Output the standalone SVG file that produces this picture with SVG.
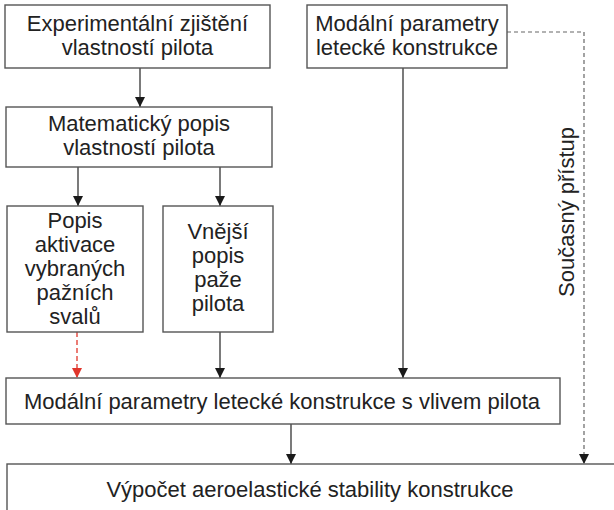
<svg xmlns="http://www.w3.org/2000/svg" width="614" height="510" viewBox="0 0 614 510">
<defs>
<marker id="ah" viewBox="0 0 10 10" refX="10" refY="5" markerWidth="10" markerHeight="10" markerUnits="userSpaceOnUse" orient="auto">
<path d="M0,0 L10,5 L0,10 Z" fill="#1a1a1a"/>
</marker>
<marker id="ahr" viewBox="0 0 10 10" refX="10" refY="5" markerWidth="10" markerHeight="10" markerUnits="userSpaceOnUse" orient="auto">
<path d="M0,0 L10,5 L0,10 Z" fill="#e0362c"/>
</marker>
<style>
.box{fill:#fff;stroke:#555;stroke-width:1.4}
.t{font-family:"Liberation Sans",Arial,sans-serif;font-size:22px;fill:#222;text-anchor:middle}
.c{fill:none;stroke:#333;stroke-width:1.3}
.red{fill:none;stroke:#e0362c;stroke-width:1.3;stroke-dasharray:5,3}
.gd{fill:none;stroke:#666;stroke-width:1.2;stroke-dasharray:4,3}
</style>
</defs>
<rect width="614" height="510" fill="#fff"/>
<g id="connectors">
<line class="c" x1="140" y1="68" x2="140" y2="107" marker-end="url(#ah)"/>
<line class="c" x1="78" y1="167" x2="78" y2="206" marker-end="url(#ah)"/>
<line class="c" x1="220" y1="167" x2="220" y2="206" marker-end="url(#ah)"/>
<line class="c" x1="220" y1="332" x2="220" y2="378" marker-end="url(#ah)"/>
<line class="red" x1="77" y1="332" x2="77" y2="378" marker-end="url(#ahr)"/>
<line class="c" x1="403" y1="68" x2="403" y2="378" marker-end="url(#ah)"/>
<line class="c" x1="291" y1="424" x2="291" y2="464" marker-end="url(#ah)"/>
<path class="gd" d="M507,32 H584 V464" marker-end="url(#ah)"/>
<text class="t" transform="translate(574,212) rotate(-90)">Současný přístup</text>
</g>
<g id="n1">
<rect class="box" x="5" y="5" width="265" height="63"/>
<text class="t" x="137.5" y="31">Experimentální zjištění</text>
<text class="t" x="137.5" y="55">vlastností pilota</text>
</g>
<g id="n2">
<rect class="box" x="6" y="107" width="266" height="60"/>
<text class="t" x="139" y="131">Matematický popis</text>
<text class="t" x="139" y="155">vlastností pilota</text>
</g>
<g id="n3">
<rect class="box" x="307" y="5" width="200" height="63"/>
<text class="t" x="407" y="31">Modální parametry</text>
<text class="t" x="407" y="55">letecké konstrukce</text>
</g>
<g id="n4">
<rect class="box" x="7" y="206" width="136" height="126"/>
<text class="t" x="75" y="228">Popis</text>
<text class="t" x="75" y="252">aktivace</text>
<text class="t" x="75" y="276">vybraných</text>
<text class="t" x="75" y="300">pažních</text>
<text class="t" x="75" y="324">svalů</text>
</g>
<g id="n5">
<rect class="box" x="163" y="206" width="110" height="126"/>
<text class="t" x="218" y="239">Vnější</text>
<text class="t" x="218" y="263">popis</text>
<text class="t" x="218" y="287">paže</text>
<text class="t" x="218" y="311">pilota</text>
</g>
<g id="n6">
<rect class="box" x="6" y="378" width="554" height="46"/>
<text class="t" x="282" y="409">Modální parametry letecké konstrukce s vlivem pilota</text>
</g>
<g id="n7">
<rect class="box" x="7" y="464" width="620" height="60"/>
<text class="t" x="310" y="497">Výpočet aeroelastické stability konstrukce</text>
</g>
</svg>
